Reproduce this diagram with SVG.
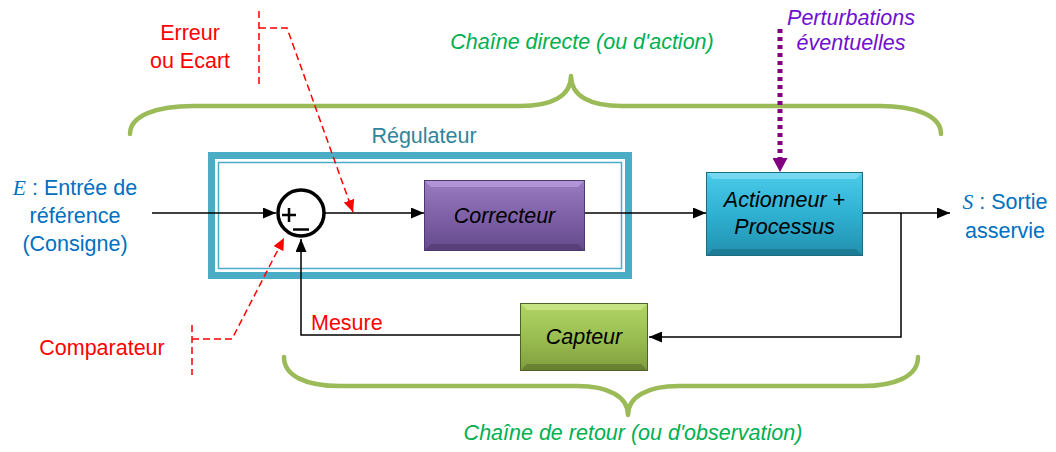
<svg xmlns="http://www.w3.org/2000/svg" width="1056" height="452" viewBox="0 0 1056 452">
<style>
.t{font-family:"Liberation Sans",Arial,sans-serif;font-size:21.5px}
.i{font-style:italic}
.red{fill:#FF0000}
.blue{fill:#0070C0}
.green{fill:#00B050}
.purple{fill:#7010D0}
.teal{fill:#31849B}
.math{font-family:"Liberation Serif","Times New Roman",serif;font-style:italic}
.wire{fill:none;stroke:#000;stroke-width:1.5}
.dash{fill:none;stroke:#FF0000;stroke-width:1.5;stroke-dasharray:7 4}
.brace{fill:none;stroke:#9BBB59;stroke-width:4.5;stroke-linecap:round;stroke-linejoin:round}
</style>
<defs>
<marker id="ah" markerUnits="userSpaceOnUse" markerWidth="13" markerHeight="11" refX="13" refY="5.5" orient="auto"><path d="M0,0 L13,5.5 L0,11 z" fill="#000"/></marker>
<marker id="ahr" markerUnits="userSpaceOnUse" markerWidth="12" markerHeight="11" refX="12" refY="5.5" orient="auto"><path d="M0,0 L12,5.5 L0,11 z" fill="#FF0000"/></marker>
<marker id="ahp" markerUnits="userSpaceOnUse" markerWidth="14" markerHeight="15" refX="14" refY="7.5" orient="auto"><path d="M0,0 L14,7.5 L0,15 z" fill="#800080"/></marker>
<linearGradient id="gp" x1="0" y1="0" x2="0" y2="1"><stop offset="0" stop-color="#9A7CC2"/><stop offset="0.5" stop-color="#7F61A8"/><stop offset="1" stop-color="#654A8C"/></linearGradient>
<linearGradient id="gc" x1="0" y1="0" x2="0" y2="1"><stop offset="0" stop-color="#4CCBEA"/><stop offset="0.5" stop-color="#2FB1D2"/><stop offset="1" stop-color="#2290AE"/></linearGradient>
<linearGradient id="gg" x1="0" y1="0" x2="0" y2="1"><stop offset="0" stop-color="#B2D566"/><stop offset="0.5" stop-color="#9BBE52"/><stop offset="1" stop-color="#7E9E3C"/></linearGradient>
</defs>

<g id="braces">
<path class="brace" d="M130,134 C130,115 158,106 193,106 L520,106 C552,106 571,96 571,76 C571,96 590,106 622,106 L880,106 C914,106 941,115 941,134"/>
<path class="brace" d="M284,357 C284,376 306,386 340,386 L577,386 C609,386 628,397 628,415 C628,397 647,386 679,386 L862,386 C896,386 918,376 918,357"/>
</g>

<g id="regulateur">
<rect x="211.5" y="155.5" width="417" height="120" fill="none" stroke="#4BACC6" stroke-width="7"/>
<rect x="218.5" y="162.5" width="403" height="106" fill="none" stroke="#4BACC6" stroke-width="1.5"/>
<text class="t teal" x="424" y="143" text-anchor="middle">Régulateur</text>
</g>

<g id="comparateur">
<circle cx="301" cy="213" r="23" fill="#fff" stroke="#000" stroke-width="3.5"/>
<path d="M282,215 H296 M289,208 V222" stroke="#000" stroke-width="2.5" fill="none"/>
<path d="M293,229.5 H309" stroke="#000" stroke-width="2.5" fill="none"/>
</g>

<g id="correcteur">
<rect x="424.5" y="180.5" width="160" height="70" fill="url(#gp)" stroke="#4E3870" stroke-width="1"/>
<path d="M425,181 H584 L578,187 H431 z" fill="#C2A8E6" opacity="0.6"/>
<path d="M425,250 H584 L578,244 H431 z" fill="#4A3368" opacity="0.5"/>
<text class="t i" x="504.5" y="223" text-anchor="middle">Correcteur</text>
</g>

<g id="actionneur">
<rect x="706.5" y="172.5" width="156" height="83" fill="url(#gc)" stroke="#1B6C82" stroke-width="1"/>
<path d="M707,173 H862 L856,179 H713 z" fill="#8FE3F6" opacity="0.6"/>
<path d="M707,255 H862 L856,249 H713 z" fill="#17657A" opacity="0.5"/>
<text class="t i" x="784.5" y="207" text-anchor="middle">Actionneur +</text>
<text class="t i" x="784.5" y="234" text-anchor="middle">Processus</text>
</g>

<g id="capteur">
<rect x="520.5" y="303.5" width="127" height="67" fill="url(#gg)" stroke="#4F6228" stroke-width="1"/>
<path d="M521,304 H647 L641,310 H527 z" fill="#D4EE95" opacity="0.6"/>
<path d="M521,370 H647 L641,364 H527 z" fill="#4F6228" opacity="0.5"/>
<text class="t i" x="584" y="344" text-anchor="middle">Capteur</text>
</g>

<g id="connectors">
<path class="wire" d="M152,213 H276" marker-end="url(#ah)"/>
<path class="wire" d="M325,213 H424" marker-end="url(#ah)"/>
<path class="wire" d="M585,213 H706" marker-end="url(#ah)"/>
<path class="wire" d="M863,213 H950" marker-end="url(#ah)"/>
<path class="wire" d="M901,213 V337 H649" marker-end="url(#ah)"/>
<path class="wire" d="M520,335 H301 V239" marker-end="url(#ah)"/>
<path d="M780,29 V160" fill="none" stroke="#800080" stroke-width="5" stroke-dasharray="4 4"/>
<path d="M780,158 V172" fill="none" stroke="none" marker-end="url(#ahp)"/>
<path class="dash" d="M259,11 V84 M259,28 H287 L353,212" marker-end="url(#ahr)"/>
<path class="dash" d="M192,325 V375 M192,339 H232 L284,238" marker-end="url(#ahr)"/>
</g>

<g id="labels">
<text class="t red" x="190" y="40" text-anchor="middle">Erreur</text>
<text class="t red" x="190" y="68" text-anchor="middle">ou Ecart</text>
<text class="t red" x="102" y="355" text-anchor="middle">Comparateur</text>
<text class="t red" x="311" y="330">Mesure</text>
<text class="t i green" x="582" y="49" text-anchor="middle">Chaîne directe (ou d'action)</text>
<text class="t i green" x="633" y="440" text-anchor="middle">Chaîne de retour (ou d'observation)</text>
<text class="t i purple" x="851" y="25" text-anchor="middle">Perturbations</text>
<text class="t i purple" x="851" y="50" text-anchor="middle">éventuelles</text>
<text class="t blue" x="75" y="195" text-anchor="middle"><tspan class="math">E</tspan> : Entrée de</text>
<text class="t blue" x="75" y="223" text-anchor="middle">référence</text>
<text class="t blue" x="75" y="251" text-anchor="middle">(Consigne)</text>
<text class="t blue" x="1005" y="209" text-anchor="middle"><tspan class="math">S</tspan> : Sortie</text>
<text class="t blue" x="1005" y="238" text-anchor="middle">asservie</text>
</g>
</svg>
